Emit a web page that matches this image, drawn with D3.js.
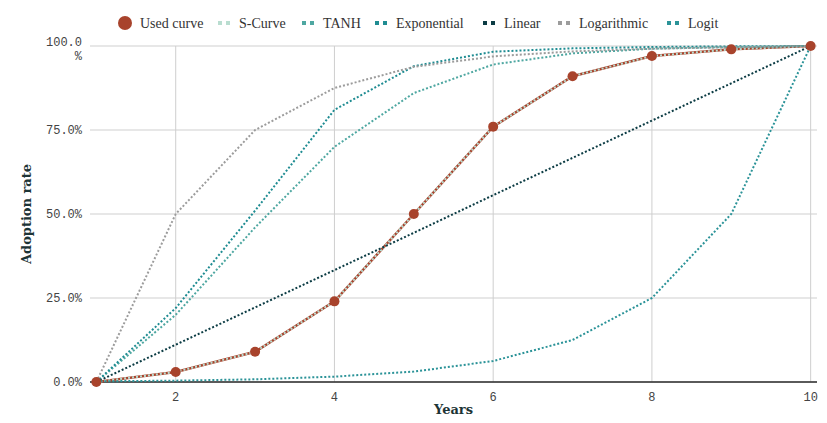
<!DOCTYPE html>
<html>
<head>
<meta charset="utf-8">
<script src="https://cdn.jsdelivr.net/npm/d3@7"></script>
<style>
  body { margin: 0; background: #fff; }
  .grid line { stroke: #cfcfcf; stroke-width: 1; }
  .tick-label { font-family: "Liberation Mono", monospace; font-size: 12px; fill: #444; }
  .axis-title { font-family: "DejaVu Serif", serif; font-weight: bold; font-size: 13px; fill: #1d3436; }
  .legend text { font-family: "Liberation Serif", serif; font-size: 14px; fill: #333; }
</style>
</head>
<body>
<script>
// years on the x axis
var years = [1, 2, 3, 4, 5, 6, 7, 8, 9, 10];

// adoption rates (%) for each curve
var usedCurve   = [0, 3, 9, 24, 50, 76, 91, 97, 99, 100];
var sCurve      = [0, 3, 9, 24, 50, 76, 91, 97, 99, 100];
var tanhCurve   = [0, 20, 46, 70, 86, 94.5, 97.8, 99.2, 99.7, 100];
var expCurve    = [0, 22, 51, 81, 94, 98.3, 99.3, 99.7, 99.9, 100];
var linearCurve = [0, 11.1, 22.2, 33.3, 44.4, 55.6, 66.7, 77.8, 88.9, 100];
var logCurve    = [0, 50, 75, 87.5, 93.8, 96.9, 98.4, 99.2, 99.6, 100];
var logitCurve  = [0.2, 0.4, 0.8, 1.6, 3.1, 6.25, 12.5, 25, 50, 100];

var xTicks = [2, 4, 6, 8, 10];
var yTicks = [0, 25, 50, 75, 100];

var series = [
  { name: "Used curve",  values: usedCurve,   color: "#a8432c" },
  { name: "S-Curve",     values: sCurve,      color: "#b9ddd0" },
  { name: "TANH",        values: tanhCurve,   color: "#4ea7a1" },
  { name: "Exponential", values: expCurve,    color: "#1f8c92" },
  { name: "Linear",      values: linearCurve, color: "#0c3c44" },
  { name: "Logarithmic", values: logCurve,    color: "#9c9c9c" },
  { name: "Logit",       values: logitCurve,  color: "#2b9398" }
];

var width = 827, height = 423;
var margin = { left: 90, right: 10, top: 46, bottom: 41 };

var svg = d3.select("body").append("svg")
  .attr("width", width)
  .attr("height", height);

var x = d3.scaleLinear().domain([0.92, 10.08]).range([margin.left, width - margin.right]);
var y = d3.scaleLinear().domain([0, 100]).range([height - margin.bottom, margin.top]);

// grid lines
var grid = svg.append("g").attr("class", "grid");
grid.selectAll("line.h")
  .data(yTicks)
  .enter().append("line").attr("class", "h")
  .attr("x1", x.range()[0])
  .attr("x2", x.range()[1])
  .attr("y1", function(d) { return y(d); })
  .attr("y2", function(d) { return y(d); });
grid.selectAll("line.v")
  .data(xTicks)
  .enter().append("line").attr("class", "v")
  .attr("x1", function(d) { return x(d); })
  .attr("x2", function(d) { return x(d); })
  .attr("y1", y(0))
  .attr("y2", y(100));

// bottom axis line
svg.append("line")
  .attr("x1", x.range()[0]).attr("x2", x.range()[1])
  .attr("y1", y(0)).attr("y2", y(0))
  .attr("stroke", "#2b2b2b").attr("stroke-width", 1.5);

// y tick labels (100.0% wraps in the original)
var fmt = d3.format(".1f");
svg.append("g").selectAll("text")
  .data(yTicks)
  .enter().append("text")
  .attr("class", "tick-label")
  .attr("text-anchor", "end")
  .attr("x", margin.left - 8)
  .attr("y", function(d) { return y(d) + 4; })
  .each(function(d) {
    var t = d3.select(this);
    if (d === 100) {
      t.append("tspan").attr("x", margin.left - 8).attr("dy", -4).text(fmt(d));
      t.append("tspan").attr("x", margin.left - 8).attr("dy", 14).text("%");
    } else {
      t.text(fmt(d) + "%");
    }
  });

// x tick labels
svg.append("g").selectAll("text")
  .data(xTicks)
  .enter().append("text")
  .attr("class", "tick-label")
  .attr("text-anchor", "middle")
  .attr("x", function(d) { return x(d); })
  .attr("y", y(0) + 19)
  .text(function(d) { return d; });

// axis titles
svg.append("text").attr("class", "axis-title")
  .attr("text-anchor", "middle")
  .attr("x", x(5.5)).attr("y", height - 9)
  .text("Years");
svg.append("text").attr("class", "axis-title")
  .attr("text-anchor", "middle")
  .attr("transform", "translate(31," + y(50) + ") rotate(-90)")
  .text("Adoption rate");

var line = d3.line()
  .x(function(d, i) { return x(years[i]); })
  .y(function(d) { return y(d); });

var plot = svg.append("g");

// used curve: solid line under the dotted curves
plot.append("path")
  .attr("d", line(usedCurve))
  .attr("fill", "none")
  .attr("stroke", series[0].color)
  .attr("stroke-width", 2.5);

plot.selectAll("path.dotted")
  .data(series.slice(1))
  .enter().append("path").attr("class", "dotted")
  .attr("d", function(s) { return line(s.values); })
  .attr("fill", "none")
  .attr("stroke", function(s) { return s.color; })
  .attr("stroke-width", 2)
  .attr("stroke-dasharray", "2 2");

plot.selectAll("circle")
  .data(usedCurve)
  .enter().append("circle")
  .attr("cx", function(d, i) { return x(years[i]); })
  .attr("cy", function(d) { return y(d); })
  .attr("r", 5)
  .attr("fill", series[0].color);

// legend
var legendX = [125, 220, 304, 377, 485, 560, 669];
var legend = svg.append("g").attr("class", "legend");
var items = legend.selectAll("g")
  .data(series)
  .enter().append("g")
  .attr("transform", function(s, i) { return "translate(" + legendX[i] + ",23)"; });

items.each(function(s, i) {
  var g = d3.select(this);
  if (i === 0) {
    g.append("circle").attr("cx", 0).attr("cy", 0).attr("r", 7).attr("fill", s.color);
    g.append("text").attr("x", 15).attr("y", 5).text(s.name);
  } else {
    g.append("rect").attr("x", -2).attr("y", -2).attr("width", 4).attr("height", 4).attr("fill", s.color);
    g.append("rect").attr("x", 6).attr("y", -2).attr("width", 4).attr("height", 4).attr("fill", s.color);
    g.append("text").attr("x", 19).attr("y", 5).text(s.name);
  }
});
</script>
</body>
</html>
